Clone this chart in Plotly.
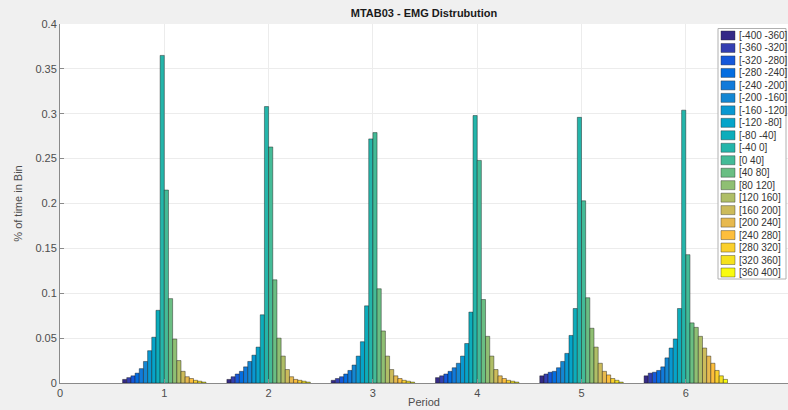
import plotly.graph_objects as go
import numpy as np

# ---------------- data ----------------
periods = [1, 2, 3, 4, 5, 6]
bin_labels = ["[-400 -360]", "[-360 -320]", "[-320 -280]", "[-280 -240]", "[-240 -200]",
              "[-200 -160]", "[-160 -120]", "[-120 -80]", "[-80 -40]", "[-40 0]",
              "[0 40]", "[40 80]", "[80 120]", "[120 160]", "[160 200]",
              "[200 240]", "[240 280]", "[280 320]", "[320 360]", "[360 400]"]

period1 = [0.004, 0.006, 0.008, 0.011, 0.016, 0.024, 0.036, 0.051, 0.081, 0.365,
           0.215, 0.094, 0.049, 0.025, 0.013, 0.007, 0.005, 0.003, 0.002, 0.001]
period2 = [0.004, 0.007, 0.010, 0.013, 0.018, 0.024, 0.031, 0.040, 0.076, 0.308,
           0.263, 0.115, 0.050, 0.030, 0.015, 0.007, 0.004, 0.003, 0.002, 0.001]
period3 = [0.003, 0.005, 0.007, 0.010, 0.014, 0.020, 0.030, 0.046, 0.086, 0.272,
           0.279, 0.105, 0.058, 0.030, 0.015, 0.008, 0.005, 0.003, 0.002, 0.001]
period4 = [0.006, 0.008, 0.010, 0.013, 0.017, 0.022, 0.030, 0.044, 0.079, 0.298,
           0.248, 0.093, 0.052, 0.030, 0.015, 0.008, 0.005, 0.003, 0.002, 0.001]
period5 = [0.008, 0.010, 0.012, 0.013, 0.017, 0.024, 0.033, 0.053, 0.083, 0.296,
           0.203, 0.095, 0.061, 0.040, 0.022, 0.013, 0.009, 0.005, 0.003, 0.001]
period6 = [0.008, 0.011, 0.012, 0.014, 0.018, 0.028, 0.039, 0.049, 0.083, 0.304,
           0.143, 0.067, 0.062, 0.052, 0.039, 0.030, 0.022, 0.014, 0.008, 0.004]

y_ticks = [0, 0.05, 0.1, 0.15, 0.2, 0.25, 0.3, 0.35, 0.4]
y_tick_text = ["0", "0.05", "0.1", "0.15", "0.2", "0.25", "0.3", "0.35", "0.4"]
x_ticks = [0, 1, 2, 3, 4, 5, 6]
x_tick_text = ["0", "1", "2", "3", "4", "5", "6"]

# ---------------- parula colormap ----------------
parula64 = [
    (0.2081, 0.1663, 0.5292), (0.2116, 0.1898, 0.5777), (0.2123, 0.2138, 0.6270), (0.2081, 0.2386, 0.6771),
    (0.1959, 0.2645, 0.7279), (0.1707, 0.2919, 0.7792), (0.1253, 0.3242, 0.8303), (0.0591, 0.3598, 0.8683),
    (0.0117, 0.3875, 0.8820), (0.0060, 0.4086, 0.8828), (0.0165, 0.4266, 0.8786), (0.0329, 0.4430, 0.8720),
    (0.0498, 0.4586, 0.8641), (0.0629, 0.4737, 0.8554), (0.0723, 0.4887, 0.8467), (0.0779, 0.5040, 0.8384),
    (0.0793, 0.5200, 0.8312), (0.0749, 0.5375, 0.8263), (0.0641, 0.5570, 0.8240), (0.0488, 0.5772, 0.8228),
    (0.0343, 0.5966, 0.8199), (0.0265, 0.6137, 0.8135), (0.0239, 0.6287, 0.8038), (0.0231, 0.6418, 0.7913),
    (0.0228, 0.6535, 0.7768), (0.0267, 0.6642, 0.7607), (0.0384, 0.6743, 0.7436), (0.0590, 0.6838, 0.7254),
    (0.0843, 0.6928, 0.7062), (0.1133, 0.7015, 0.6859), (0.1453, 0.7098, 0.6646), (0.1801, 0.7177, 0.6424),
    (0.2178, 0.7250, 0.6193), (0.2586, 0.7317, 0.5954), (0.3022, 0.7376, 0.5712), (0.3482, 0.7424, 0.5473),
    (0.3953, 0.7459, 0.5244), (0.4420, 0.7481, 0.5033), (0.4871, 0.7491, 0.4840), (0.5300, 0.7491, 0.4661),
    (0.5709, 0.7485, 0.4494), (0.6099, 0.7473, 0.4337), (0.6473, 0.7456, 0.4188), (0.6834, 0.7435, 0.4044),
    (0.7184, 0.7411, 0.3905), (0.7525, 0.7384, 0.3768), (0.7858, 0.7356, 0.3633), (0.8185, 0.7327, 0.3498),
    (0.8507, 0.7299, 0.3360), (0.8824, 0.7274, 0.3217), (0.9139, 0.7258, 0.3063), (0.9450, 0.7261, 0.2886),
    (0.9739, 0.7314, 0.2666), (0.9938, 0.7455, 0.2403), (0.9990, 0.7653, 0.2164), (0.9955, 0.7861, 0.1967),
    (0.9880, 0.8066, 0.1794), (0.9789, 0.8271, 0.1633), (0.9697, 0.8481, 0.1475), (0.9626, 0.8705, 0.1309),
    (0.9589, 0.8949, 0.1132), (0.9598, 0.9218, 0.0948), (0.9661, 0.9514, 0.0755), (0.9763, 0.9831, 0.0538)]
pal = np.array(parula64)
grid = np.linspace(0, 1, len(pal))


def parula(n):
    out = []
    for t in np.linspace(0, 1, n):
        c = [np.interp(t, grid, pal[:, k]) for k in range(3)]
        out.append("rgb(%d,%d,%d)" % tuple(int(round(v * 255)) for v in c))
    return out


colors = parula(len(bin_labels))

# ---------------- figure ----------------
W, H = 788, 410
L, R, T, B = 60, 0, 24, 27
plot_w = W - L - R
plot_h = H - T - B

all_periods = [period1, period2, period3, period4, period5, period6]
fig = go.Figure()
for i, lab in enumerate(bin_labels):
    fig.add_trace(go.Bar(
        x=periods, y=[p[i] for p in all_periods], name=lab,
        marker=dict(color=colors[i], line=dict(color="rgba(20,20,20,0.85)", width=0.5)),
        showlegend=False))

font_family = "Liberation Sans, Arial, sans-serif"
axis_col = "#8a8a8a"
tick_font = dict(family=font_family, size=11, color="#4d4d4d")

fig.update_layout(
    width=W, height=H,
    margin=dict(l=L, r=R, t=T, b=B, pad=0),
    paper_bgcolor="#f0f0f0", plot_bgcolor="white",
    barmode="group", bargap=0.2, bargroupgap=0,
    title=dict(text="<b>MTAB03 - EMG Distrubution</b>", x=0.5, xref="paper", xanchor="center",
               y=1 - 13 / H, yref="container", yanchor="middle",
               font=dict(family=font_family, size=11, color="#1a1a1a")),
    xaxis=dict(range=[0, (W - L - R) / 104.3], tickvals=x_ticks, ticktext=x_tick_text,
               showgrid=True, gridcolor="#ececec", gridwidth=1, zeroline=False,
               showline=True, linecolor=axis_col, linewidth=1,
               ticks="inside", ticklen=4, tickcolor=axis_col, tickfont=tick_font,
               title=dict(text="Period", font=dict(family=font_family, size=11, color="#4d4d4d"), standoff=0)),
    yaxis=dict(range=[0, 0.4], tickvals=y_ticks, ticktext=y_tick_text,
               showgrid=True, gridcolor="#ececec", gridwidth=1, zeroline=False,
               showline=True, linecolor=axis_col, linewidth=1,
               ticks="inside", ticklen=4, tickcolor=axis_col, tickfont=tick_font,
               title=dict(text="% of time in Bin", font=dict(family=font_family, size=11, color="#4d4d4d"), standoff=10)),
)


def px_x(px):
    return (px - L) / plot_w


def px_y(py):
    return (H - B - py) / plot_h


# ---------------- manual legend (MATLAB style, compact) ----------------
leg_x0, leg_x1 = 718, 786
leg_y0, leg_y1 = 28.5, 279
row0 = 35.5
row_step = (272.5 - 35.5) / (len(bin_labels) - 1)
shapes = [dict(type="rect", xref="paper", yref="paper",
               x0=px_x(leg_x0), x1=px_x(leg_x1), y0=px_y(leg_y1), y1=px_y(leg_y0),
               line=dict(color="#b0b0b0", width=1), fillcolor="white", layer="above")]
annotations = []
for i, lab in enumerate(bin_labels):
    cy = row0 + i * row_step
    shapes.append(dict(type="rect", xref="paper", yref="paper",
                       x0=px_x(721), x1=px_x(735), y0=px_y(cy + 4.5), y1=px_y(cy - 4.5),
                       line=dict(color="rgba(40,40,40,0.8)", width=0.5), fillcolor=colors[i], layer="above"))
    annotations.append(dict(xref="paper", yref="paper", x=px_x(737), y=px_y(cy),
                            xanchor="left", yanchor="middle", text=lab, showarrow=False,
                            font=dict(family=font_family, size=10, color="#333333")))
fig.update_layout(shapes=shapes, annotations=annotations)

fig.write_html("out.html")
